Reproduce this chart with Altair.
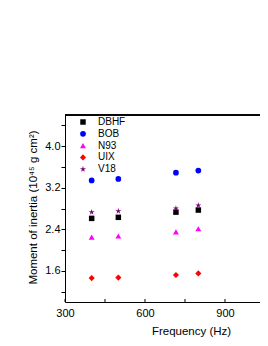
import altair as alt
import pandas as pd

freq = [400, 500, 716, 800]
dbhf = [2.61, 2.63, 2.73, 2.77]
bob = [3.34, 3.37, 3.49, 3.53]
n93 = [2.25, 2.27, 2.35, 2.41]
uix = [1.46, 1.47, 1.52, 1.55]
v18 = [2.73, 2.75, 2.80, 2.86]

models = ["DBHF", "BOB", "N93", "UIX", "V18"]
series = [dbhf, bob, n93, uix, v18]
colors = ["#000000", "#0000ff", "#ff00ff", "#ff0000", "#800080"]
star = ("M0,-1L0.2234,-0.3074L0.9511,-0.309L0.3614,0.1174L0.5878,0.809L0,0.38"
        "L-0.5878,0.809L-0.3614,0.1174L-0.9511,-0.309L-0.2234,-0.3074Z")
shapes = ["square", "circle", "triangle-up", "diamond", star]
sizes = [30, 40, 48, 55, 48]

x_ticks = [300, 450, 600, 750, 900]
y_ticks = [1.2, 1.6, 2.0, 2.4, 2.8, 3.2, 3.6, 4.0, 4.4]

rows = []
for m, vals in zip(models, series):
    for f, v in zip(freq, vals):
        rows.append({"model": m, "freq": f, "I": v})
df = pd.DataFrame(rows)
ticks_df = pd.DataFrame({"t": x_ticks})

W, H = 195, 187
FONT = "Liberation Sans"
xscale = alt.Scale(domain=[300, 1031.25], nice=False, zero=False)

points = alt.Chart(df).mark_point(filled=True, opacity=1, strokeWidth=0).encode(
    x=alt.X("freq:Q", scale=xscale,
            axis=alt.Axis(values=x_ticks, title="Frequency (Hz)", grid=False, ticks=False,
                          labelExpr="datum.value % 300 == 0 ? format(datum.value, 'd') : ''",
                          labelPadding=5, labelFlush=False, domainColor="black",
                          titleX=126, titleY=29, titleBaseline="middle", titleAlign="center")),
    y=alt.Y("I:Q", scale=alt.Scale(domain=[1.0, 4.6], nice=False, zero=False),
            axis=alt.Axis(values=y_ticks, title="Moment of inertia (10⁴⁵ g cm²)", grid=False,
                          labelExpr="abs(datum.value/0.8 - round(datum.value/0.8)) < 0.01 ? format(datum.value, '.1f') : ''",
                          tickSize=4, labelPadding=1, labelFlush=False, domainColor="black",
                          tickColor="black",
                          titleAngle=270, titleX=-32, titleY=92, titleBaseline="middle",
                          titleAlign="center")),
    color=alt.Color("model:N", scale=alt.Scale(domain=models, range=colors),
                    legend=alt.Legend(title=None, orient="none", legendX=13, legendY=2,
                                      padding=0, rowPadding=1.8, labelOffset=10,
                                      symbolSize=36, symbolStrokeWidth=0,
                                      labelFontSize=10, labelFont=FONT)),
    shape=alt.Shape("model:N", scale=alt.Scale(domain=models, range=shapes), legend=None),
    size=alt.Size("model:N", scale=alt.Scale(domain=models, range=sizes), legend=None),
)

xticks = alt.Chart(ticks_df).mark_rule(color="black", strokeWidth=1).encode(
    x=alt.X("t:Q", scale=xscale), y=alt.value(H), y2=alt.value(H - 3)
)

frame = alt.Chart(ticks_df).mark_rule(color="black", strokeWidth=1).encode(
    x=alt.value(0), x2=alt.value(W), y=alt.value(0)
)

chart = alt.layer(points, xticks, frame).properties(
    width=W, height=H,
    autosize=alt.AutoSizeParams(type="none"),
    padding={"left": 57, "top": 107, "right": 0, "bottom": 38},
).configure_view(stroke=None).configure_axis(
    labelFont=FONT, titleFont=FONT, labelFontSize=11, titleFontSize=11.5,
    titleFontWeight="normal", labelColor="black", titleColor="black",
)

chart.save("out.html", embed_options={"renderer": "svg", "actions": False})
